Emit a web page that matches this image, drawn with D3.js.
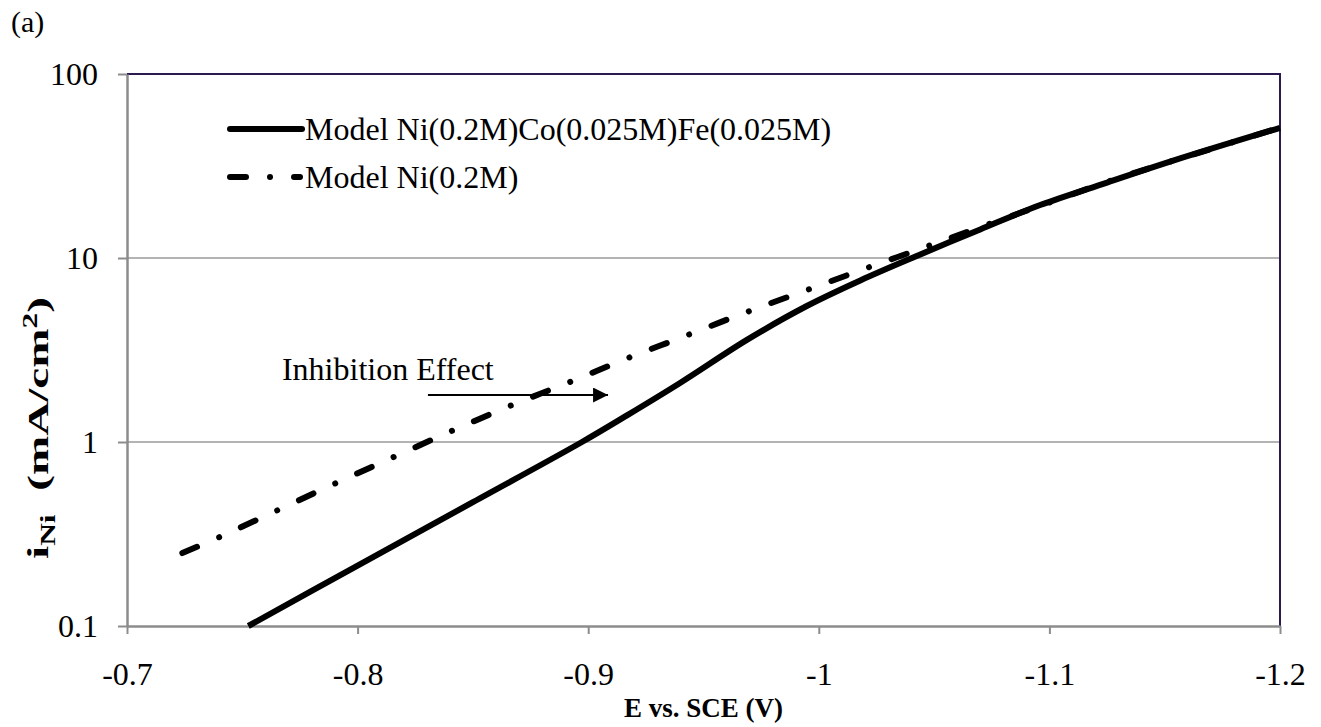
<!DOCTYPE html>
<html>
<head>
<meta charset="utf-8">
<script src="https://cdn.jsdelivr.net/npm/d3@7"></script>
<style>
  html, body { margin: 0; padding: 0; background: #fff; }
  svg { display: block; }
</style>
</head>
<body>
<svg id="chart" width="1321" height="727"></svg>
<script>
// ---- data ----
const xTicks = [-0.7, -0.8, -0.9, -1.0, -1.1, -1.2];
const yTicks = [0.1, 1, 10, 100];

const seriesNames = ["Model Ni(0.2M)Co(0.025M)Fe(0.025M)", "Model Ni(0.2M)"];

const niCoFeE = [-0.7526, -0.80, -0.85, -0.8973, -0.917, -0.94, -0.969, -0.995, -1.018, -1.0404, -1.07, -1.096, -1.125, -1.154, -1.2];
const niCoFeI = [0.1, 0.213, 0.471, 1.0, 1.40, 2.1, 3.6, 5.5, 7.55, 10.0, 14.3, 19.4, 25.7, 33.9, 51];

const niE = [-0.724, -0.7403, -0.7655, -0.7906, -0.8158, -0.8409, -0.866, -0.8921, -0.9173, -0.9433, -0.9689, -0.9949, -1.0209, -1.0465, -1.0725, -1.1, -1.125, -1.154, -1.2];
const niI = [0.249, 0.305, 0.427, 0.598, 0.83, 1.15, 1.57, 2.12, 2.86, 3.82, 5.09, 6.7, 8.83, 11.5, 15.1, 20.0, 25.9, 33.9, 51];

const annotationText = "Inhibition Effect";
const annotationTextPos = [-0.7672, 2.17];
const arrowFrom = [-0.8305, 1.8];
const arrowTo = [-0.9086, 1.8];

// ---- layout ----
const FONT = '"Liberation Serif", "Times New Roman", serif';
const svg = d3.select("#chart");
const x = d3.scaleLinear().domain([-0.7, -1.2]).range([127, 1280]);
const y = d3.scaleLog().domain([0.1, 100]).range([626, 74]);

// gridlines
svg.append("g").selectAll("line")
  .data([1, 10])
  .join("line")
  .attr("x1", x(-0.7)).attr("x2", x(-1.2))
  .attr("y1", d => y(d)).attr("y2", d => y(d))
  .attr("stroke", "#9a9a9a").attr("stroke-width", 1.5);

// top & right border (dark purple)
svg.append("path")
  .attr("d", `M${x(-0.7)},${y(100)}H${x(-1.2)}V${y(0.1)}`)
  .attr("fill", "none").attr("stroke", "#2b1a4f").attr("stroke-width", 2);

// y axis
const yAxis = svg.append("g")
  .attr("transform", `translate(${x(-0.7)},0)`)
  .call(d3.axisLeft(y).tickValues(yTicks).tickFormat(d => String(d)).tickSize(9).tickSizeOuter(0).tickPadding(20));
yAxis.attr("font-family", FONT).attr("font-size", 32);
yAxis.select(".domain").attr("stroke", "#8c8c8c").attr("stroke-width", 2.5);
yAxis.selectAll(".tick line").attr("stroke", "#8c8c8c").attr("stroke-width", 2);
yAxis.selectAll(".tick text").attr("fill", "#000");

// x axis
const xAxis = svg.append("g")
  .attr("transform", `translate(0,${y(0.1)})`)
  .call(d3.axisBottom(x).tickValues(xTicks).tickFormat(d => String(d)).tickSize(8).tickSizeOuter(0).tickPadding(28));
xAxis.attr("font-family", FONT).attr("font-size", 32);
xAxis.select(".domain").attr("stroke", "#8c8c8c").attr("stroke-width", 2.5);
xAxis.selectAll(".tick line").attr("stroke", "#8c8c8c").attr("stroke-width", 2);
xAxis.selectAll(".tick text").attr("fill", "#000");

// series
const line = d3.line().x(d => x(d[0])).y(d => y(d[1])).curve(d3.curveCatmullRom.alpha(0.5));
const niCoFe = niCoFeE.map((e, i) => [e, niCoFeI[i]]);
const ni = niE.map((e, i) => [e, niI[i]]);

const dashDot = "16,24,0.01,24";

svg.append("path").datum(ni)
  .attr("d", line).attr("fill", "none").attr("stroke", "#000")
  .attr("stroke-width", 6).attr("stroke-linecap", "round")
  .attr("stroke-dasharray", dashDot);

svg.append("path").datum(niCoFe)
  .attr("d", line).attr("fill", "none").attr("stroke", "#000")
  .attr("stroke-width", 6).attr("stroke-linejoin", "round");

// legend
const legend = svg.append("g").attr("font-family", FONT).attr("font-size", 32);
const legY = [129, 177];
legend.append("line").attr("x1", 230).attr("x2", 302).attr("y1", legY[0]).attr("y2", legY[0])
  .attr("stroke", "#000").attr("stroke-width", 6).attr("stroke-linecap", "round");
legend.append("line").attr("x1", 230).attr("x2", 300).attr("y1", legY[1]).attr("y2", legY[1])
  .attr("stroke", "#000").attr("stroke-width", 6).attr("stroke-linecap", "round")
  .attr("stroke-dasharray", dashDot);
seriesNames.forEach((n, i) => {
  legend.append("text").attr("x", 305).attr("y", legY[i] + 11).attr("fill", "#000").text(n);
});

// annotation
svg.append("text")
  .attr("x", x(annotationTextPos[0])).attr("y", y(annotationTextPos[1]))
  .attr("font-family", FONT).attr("font-size", 32).attr("fill", "#000")
  .text(annotationText);
svg.append("defs").append("marker")
  .attr("id", "arrowhead").attr("viewBox", "0 0 10 10").attr("refX", 10).attr("refY", 5)
  .attr("markerWidth", 16).attr("markerHeight", 15).attr("markerUnits", "userSpaceOnUse")
  .attr("orient", "auto")
  .append("path").attr("d", "M0,0L10,5L0,10Z").attr("fill", "#000");
svg.append("line")
  .attr("x1", x(arrowFrom[0])).attr("y1", y(arrowFrom[1]))
  .attr("x2", x(arrowTo[0])).attr("y2", y(arrowTo[1]))
  .attr("stroke", "#000").attr("stroke-width", 2)
  .attr("marker-end", "url(#arrowhead)");

// panel label
svg.append("text").attr("x", 11).attr("y", 32)
  .attr("font-family", FONT).attr("font-size", 30).attr("fill", "#000").text("(a)");

// axis titles
svg.append("text")
  .attr("x", (x(-0.7) + x(-1.2)) / 2).attr("y", 717)
  .attr("text-anchor", "middle")
  .attr("font-family", FONT).attr("font-size", 27).attr("font-weight", "bold").attr("fill", "#000")
  .text("E vs. SCE (V)");

const yl = svg.append("text")
  .attr("transform", "translate(48,428) rotate(-90)")
  .attr("text-anchor", "middle")
  .attr("textLength", 262).attr("lengthAdjust", "spacingAndGlyphs")
  .attr("font-family", FONT).attr("font-size", 30).attr("font-weight", "bold").attr("fill", "#000");
yl.append("tspan").text("i");
yl.append("tspan").attr("dy", 7).attr("font-size", 20).text("Ni");
yl.append("tspan").attr("dy", -7).text("\u00a0\u00a0(mA/cm");
yl.append("tspan").attr("dy", -11).attr("font-size", 20).text("2");
yl.append("tspan").attr("dy", 11).text(")");
</script>
</body>
</html>
